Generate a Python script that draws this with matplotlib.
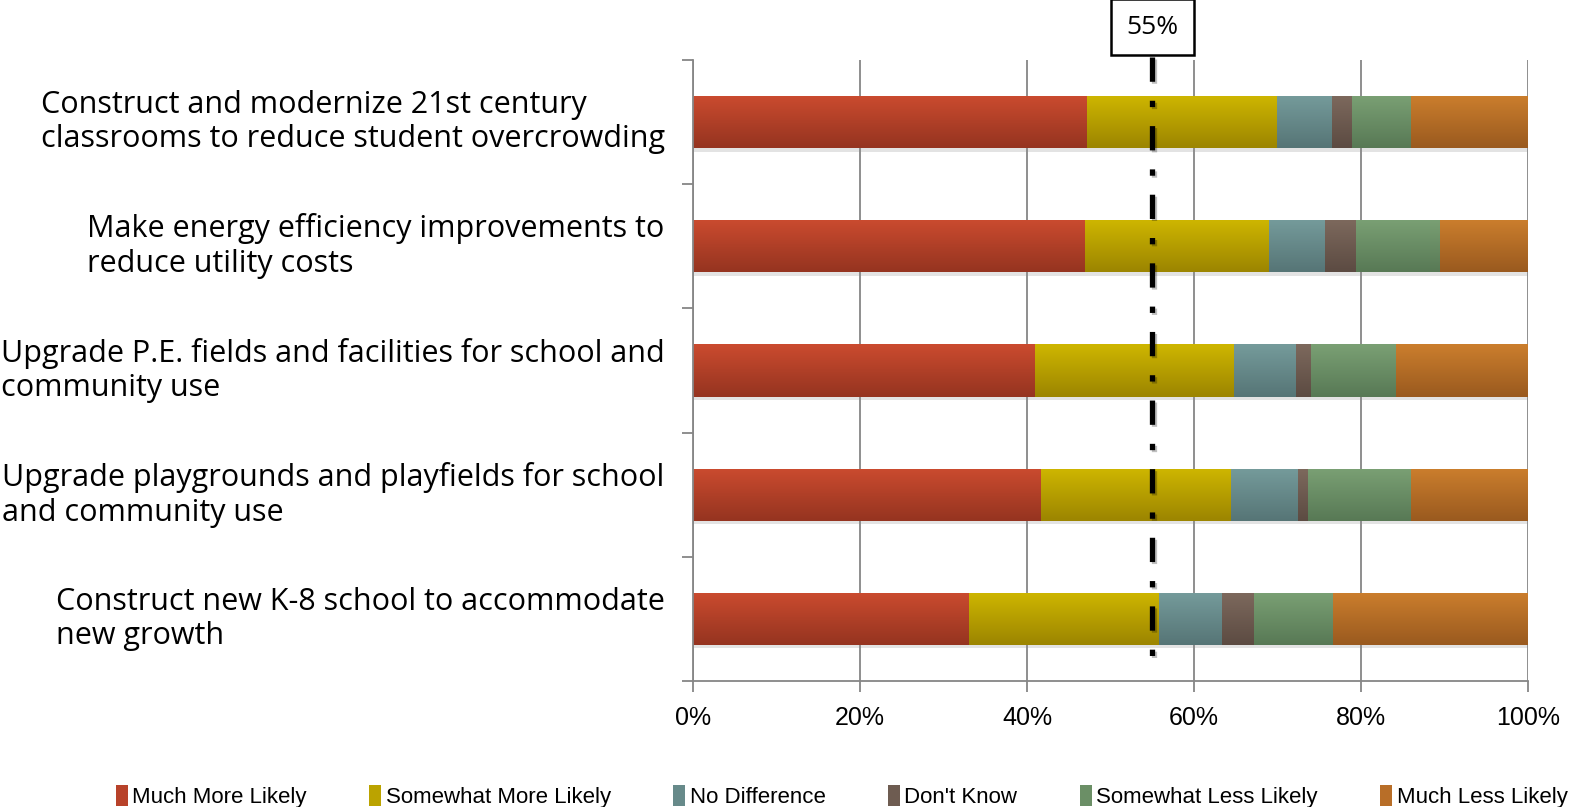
import numpy as np
import matplotlib
matplotlib.use('Agg')
import matplotlib.pyplot as plt
import matplotlib.transforms as mtransforms
import matplotlib.patheffects as pe
from matplotlib.patches import Patch

categories = [
    'Construct and modernize 21st century\nclassrooms to reduce student overcrowding',
    'Make energy efficiency improvements to\nreduce utility costs',
    'Upgrade P.E. fields and facilities for school and\ncommunity use',
    'Upgrade playgrounds and playfields for school\nand community use',
    'Construct new K-8 school to accommodate\nnew growth',
]
series = ['Much More Likely', 'Somewhat More Likely', 'No Difference',
          "Don't Know", 'Somewhat Less Likely', 'Much Less Likely']

much_more = [47.2, 47.0, 41.0, 41.7, 33.0]
somewhat_more = [22.7, 22.0, 23.8, 22.7, 22.8]
no_difference = [6.6, 6.7, 7.4, 8.1, 7.5]
dont_know = [2.4, 3.7, 1.8, 1.2, 3.9]
somewhat_less = [7.1, 10.1, 10.2, 12.3, 9.5]
much_less = [14.0, 10.5, 15.8, 14.0, 23.3]
values = [much_more, somewhat_more, no_difference, dont_know, somewhat_less, much_less]

threshold = 55
xticks = [0, 20, 40, 60, 80, 100]

top_cols = ['#CB4B2F', '#CEB600', '#759B9B', '#7D695D', '#7AA074', '#CB7E2D']
bot_cols = ['#953420', '#9C8500', '#567576', '#5C4B42', '#587955', '#9A5A1F']
mid_cols = ['#B8422A', '#BBA300', '#678A8A', '#6E5C51', '#6B8F66', '#B86E28']

label_font = ['Open Sans', 'DejaVu Sans']
narrow_font = ['Liberation Sans Narrow', 'Liberation Sans', 'DejaVu Sans']

fig = plt.figure(figsize=(15.79, 8.07), dpi=100)
ax = fig.add_axes([0.4389, 0.1561, 0.5288, 0.7696])

y = np.arange(len(categories))
left = np.zeros(len(categories))
shadow = [pe.SimplePatchShadow(offset=(1, -2.5), shadow_rgbFace='#909090', alpha=0.25),
          pe.Normal()]

for i, vals in enumerate(values):
    bars = ax.barh(y, vals, left=left, height=0.42, color=mid_cols[i],
                   linewidth=0, zorder=2)
    for b in bars:
        b.set_path_effects(shadow)
        x0, y0 = b.get_x(), b.get_y()
        w, h = b.get_width(), b.get_height()
        t = np.linspace(0, 1, 64)[:, None]
        c0 = np.array(matplotlib.colors.to_rgb(top_cols[i]))
        c1 = np.array(matplotlib.colors.to_rgb(bot_cols[i]))
        grad = (c0 * (1 - t) + c1 * t)[:, None, :]
        im = ax.imshow(grad, extent=(x0, x0 + w, y0 + h, y0), origin='upper',
                       aspect='auto', zorder=2.5, interpolation='bilinear')
        im.set_clip_path(b)
    left += np.array(vals)

ax.set_xlim(0, 100)
ax.set_ylim(len(categories) - 0.5, -0.5)
ax.set_xticks(xticks)
ax.set_xticklabels([f'{v}%' for v in xticks], fontsize=18, family=narrow_font)
ax.set_yticks(np.arange(len(categories) + 1) - 0.5)
ax.set_yticklabels([])
ax.tick_params(axis='both', direction='out', length=8, width=1.3, color='#868686')
ax.tick_params(axis='x', pad=10)
ax.grid(axis='x', color='#868686', linewidth=1.3, zorder=0)
ax.set_axisbelow(True)
for s in ['top', 'right']:
    ax.spines[s].set_visible(False)
for s in ['left', 'bottom']:
    ax.spines[s].set_color('#868686')
    ax.spines[s].set_linewidth(1.3)

# category labels: right edge of block near the axis, lines left-aligned
lab_tr = mtransforms.blended_transform_factory(ax.transAxes, ax.transData)
for yi, cat in zip(y, categories):
    ax.text(-0.034, yi, cat, transform=lab_tr, ha='right', va='center',
            ma='left', fontsize=22, family=label_font, linespacing=1.2)

# threshold line with its callout box
line_tr = mtransforms.blended_transform_factory(ax.transData, ax.transAxes)
ax.plot([threshold, threshold], [1.005, 0.026], transform=line_tr, color='black',
        linewidth=3.8, dashes=(4.6, 3.6, 1.2, 3.6), solid_capstyle='butt',
        dash_capstyle='butt', clip_on=False, zorder=4,
        path_effects=[pe.SimpleLineShadow(offset=(1, -1.5), alpha=0.25), pe.Normal()])
ax.text(threshold, 1.053, f'{threshold}%', transform=line_tr, ha='center', va='center',
        fontsize=19, family=label_font, zorder=5,
        bbox=dict(boxstyle='square,pad=0.58', facecolor='white', edgecolor='black',
                  linewidth=1.8))

handles = [Patch(facecolor=mid_cols[i], edgecolor='none', label=series[i])
           for i in range(len(series))]
fig.legend(handles=handles, loc='lower center', bbox_to_anchor=(0.533, -0.026),
           ncol=6, frameon=False, handlelength=0.55, handleheight=1.1,
           handletextpad=0.2, columnspacing=2.8,
           prop={'family': narrow_font, 'size': 16})

fig.savefig('out.png', dpi=100)
